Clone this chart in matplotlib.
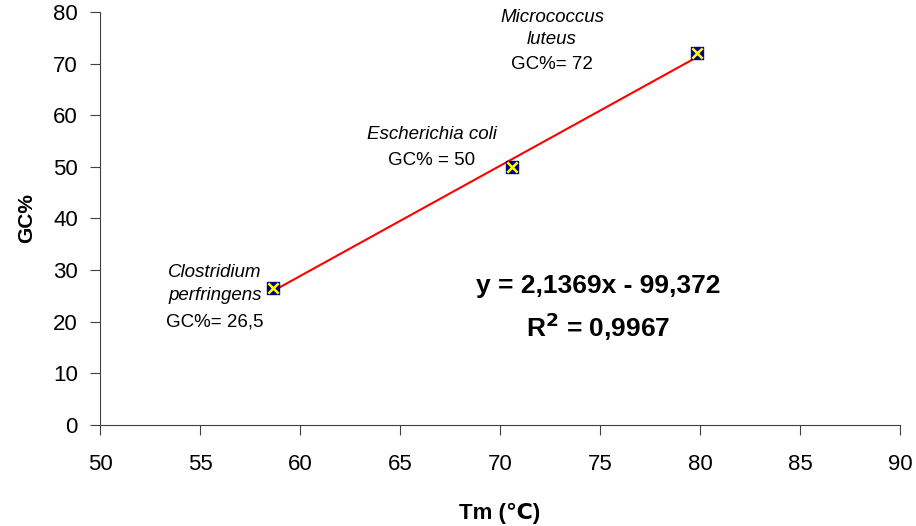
import numpy as np
import matplotlib
matplotlib.use('Agg')
import matplotlib.pyplot as plt

plt.rcParams['font.family'] = ['Liberation Sans', 'DejaVu Sans']

# Tm (C) en GC% van drie bacterien
tm = [58.65, 70.6, 79.85]
gc = [26.5, 50, 72]
names = ['Clostridium\nperfringens', 'Escherichia coli', 'Micrococcus\nluteus']
gc_labels = ['GC%= 26,5', 'GC% = 50', 'GC%= 72']
slope = 2.1369
intercept = -99.372
r2 = '0,9967'

fig = plt.figure(figsize=(9.16, 5.26), dpi=100)
ax = fig.add_axes([100 / 916, 1 - 425 / 526, 800 / 916, 413 / 526])

xs = np.array([tm[0], tm[-1]])
ax.plot(xs, slope * xs + intercept, color='red', linewidth=1.5, zorder=2)
ax.scatter(tm, gc, marker='s', s=70, color='#000080', zorder=3)
ax.scatter(tm, gc, marker='x', s=55, color='yellow', linewidths=1.8, zorder=4)

# label posities (x midden, y per regel), in data eenheden
lab_x = [55.75, 66.6, 72.6]
lab_y = [[29.6, 25.0, 19.95], [56.2, 51.3], [79.0, 74.6, 69.9]]
for i in range(3):
    lines = names[i].split('\n')
    for j, line in enumerate(lines):
        ax.text(lab_x[i], lab_y[i][j], line, style='italic', fontsize=13.5,
                ha='center', va='center')
    ax.text(lab_x[i], lab_y[i][len(lines)], gc_labels[i], fontsize=13.5,
            ha='center', va='center')

ax.text(74.9, 26.9, 'y = 2,1369x - 99,372', fontsize=19, fontweight='bold', ha='center', va='center')
ax.text(74.9, 19.0, 'R$^{\\mathbf{2}}$ = ' + r2, fontsize=19, fontweight='bold', ha='center', va='center')

ax.set_xlim(50, 90)
ax.set_ylim(0, 80)
ax.set_xticks(range(50, 91, 5))
ax.set_yticks(range(0, 81, 10))
ax.tick_params(labelsize=16, length=7, width=0.8, color='#404040')
ax.tick_params(axis='x', pad=14)
ax.tick_params(axis='y', pad=9)
for s in ['top', 'right']:
    ax.spines[s].set_visible(False)
for s in ['left', 'bottom']:
    ax.spines[s].set_color('#404040')
    ax.spines[s].set_linewidth(0.8)

ax.set_xlabel('Tm (\u2103)', fontsize=16, fontweight='bold', labelpad=20)
ax.set_ylabel('GC%', fontsize=15, fontweight='bold', labelpad=12)

fig.savefig('out.png', dpi=100)
